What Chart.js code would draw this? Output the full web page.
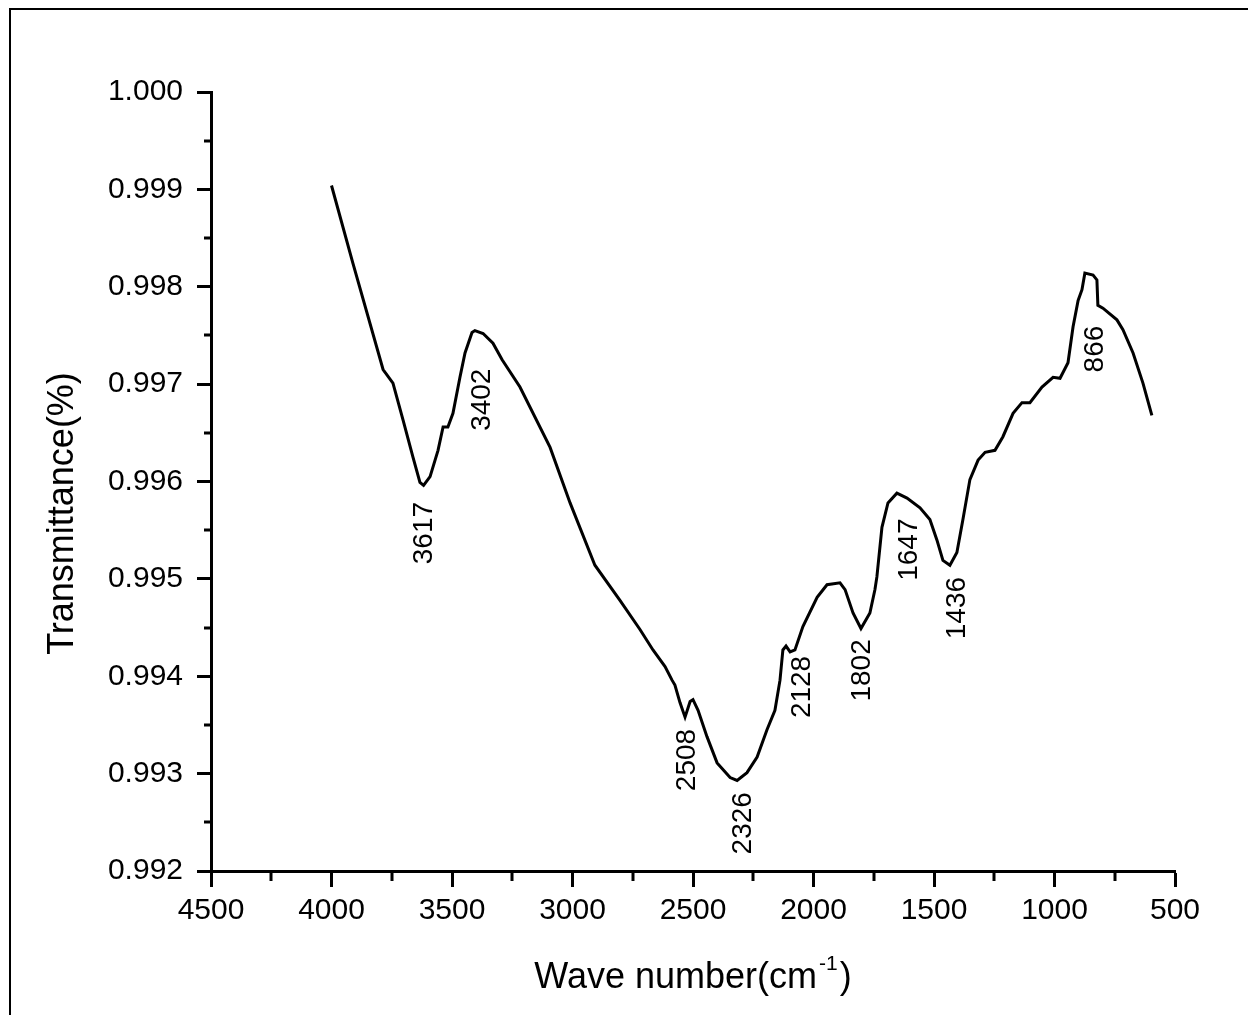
<!DOCTYPE html>
<html>
<head>
<meta charset="utf-8">
<script src="https://cdn.jsdelivr.net/npm/chart.js@4/dist/chart.umd.min.js"></script>
<style>
  html, body { margin: 0; padding: 0; background: #fff; overflow: hidden; }
  #wrap { width: 1248px; height: 1015px; }
</style>
</head>
<body>
<div id="wrap"><canvas id="ftir" width="1248" height="1015"></canvas></div>
<script>
// FTIR spectrum
const waveNumbers = [
  4000, 3911, 3786, 3745, 3703, 3662, 3633, 3618, 3591, 3558, 3537, 3517, 3496, 3467,
  3446, 3417, 3405, 3371, 3330, 3292, 3218, 3093, 3010, 2907, 2803, 2720, 2666, 2616,
  2587, 2575, 2554, 2533, 2512, 2500, 2479, 2442, 2400, 2346, 2317, 2276, 2234, 2193,
  2160, 2139, 2127, 2114, 2097, 2077, 2044, 1985, 1944, 1890, 1869, 1836, 1803, 1766,
  1745, 1737, 1716, 1691, 1654, 1612, 1558, 1517, 1488, 1463, 1434, 1405, 1380, 1351,
  1317, 1288, 1247, 1214, 1172, 1135, 1102, 1052, 1006, 977, 944, 923, 902, 886,
  874, 840, 824, 820, 799, 741, 716, 674, 633, 596
];
const transmittance = [
  0.99904, 0.99824, 0.99715, 0.99701, 0.99663, 0.99625, 0.99599, 0.99596, 0.99605, 0.99632, 0.99656, 0.99656, 0.99670, 0.99707,
  0.99732, 0.99753, 0.99755, 0.99752, 0.99742, 0.99725, 0.99697, 0.99635, 0.99578, 0.99514, 0.99478, 0.99448, 0.99427, 0.99410,
  0.99396, 0.99391, 0.99373, 0.99358, 0.99374, 0.99376, 0.99365, 0.99338, 0.99311, 0.99296, 0.99293, 0.99301, 0.99317, 0.99345,
  0.99365, 0.99396, 0.99427, 0.99431, 0.99425, 0.99427, 0.99451, 0.99481, 0.99494, 0.99496, 0.99489, 0.99465, 0.99449, 0.99465,
  0.99489, 0.99502, 0.99553, 0.99578, 0.99588, 0.99583, 0.99573, 0.99561, 0.99540, 0.99519, 0.99514, 0.99527, 0.99561, 0.99602,
  0.99622, 0.99630, 0.99632, 0.99646, 0.99670, 0.99681, 0.99681, 0.99697, 0.99707, 0.99706, 0.99722, 0.99759, 0.99786, 0.99797,
  0.99814, 0.99812, 0.99807, 0.99781, 0.99778, 0.99766, 0.99756, 0.99732, 0.99701, 0.99668
];

// peak annotations: text, and the (wave number, transmittance) where the label is centred
const peakLabels = ['3617', '3402', '2508', '2326', '2128', '1802', '1647', '1436', '866'];
const peakLabelX = [3616, 3376, 2525, 2293, 2048, 1799, 1604, 1405, 832];
const peakLabelY = [0.99547, 0.99684, 0.99314, 0.99249, 0.99389, 0.99406, 0.99530, 0.99470, 0.99736];

const FONT = '"Liberation Sans", Arial, sans-serif';

// minor ticks, peak labels, axis titles and the outer frame
const decorPlugin = {
  id: 'decor',
  beforeDraw(chart) {
    const ctx = chart.ctx;
    ctx.save();
    ctx.fillStyle = '#fff';
    ctx.fillRect(0, 0, chart.width, chart.height);
    ctx.strokeStyle = '#000';
    ctx.lineWidth = 2;
    ctx.beginPath();
    ctx.moveTo(10, chart.height + 5);
    ctx.lineTo(10, 9);
    ctx.lineTo(chart.width + 5, 9);
    ctx.stroke();
    ctx.restore();
  },
  afterDraw(chart) {
    const ctx = chart.ctx;
    const xs = chart.scales.x, ys = chart.scales.y;
    const area = chart.chartArea;
    ctx.save();
    ctx.strokeStyle = '#000';
    ctx.lineWidth = 3;
    // minor ticks
    ctx.beginPath();
    for (let v = 750; v < 4500; v += 500) {
      const px = Math.round(xs.getPixelForValue(v));
      ctx.moveTo(px, area.bottom);
      ctx.lineTo(px, area.bottom + 10);
    }
    for (let v = 0.9925; v < 1.0; v += 0.001) {
      const py = Math.round(ys.getPixelForValue(v));
      ctx.moveTo(area.left, py);
      ctx.lineTo(area.left - 7, py);
    }
    ctx.stroke();

    // peak labels, rotated
    ctx.fillStyle = '#000';
    ctx.font = '28px ' + FONT;
    ctx.textAlign = 'center';
    ctx.textBaseline = 'middle';
    peakLabels.forEach((t, i) => {
      const px = xs.getPixelForValue(peakLabelX[i]);
      const py = ys.getPixelForValue(peakLabelY[i]);
      ctx.save();
      ctx.translate(px, py);
      ctx.rotate(-Math.PI / 2);
      ctx.fillText(t, 0, 0);
      ctx.restore();
    });

    // y title
    ctx.font = '36px ' + FONT;
    ctx.save();
    ctx.translate(63, (area.top + area.bottom) / 2 + 32);
    ctx.rotate(-Math.PI / 2);
    ctx.fillText('Transmittance(%)', 0, 0);
    ctx.restore();

    // x title with superscript
    const main = 'Wave number(cm';
    const sup = '-1';
    const tail = ')';
    ctx.font = '36px ' + FONT;
    const w1 = ctx.measureText(main).width;
    const w3 = ctx.measureText(tail).width;
    ctx.font = '21px ' + FONT;
    const w2 = ctx.measureText(sup).width + 4;
    const total = w1 + w2 + w3;
    let x0 = (area.left + area.right) / 2 - total / 2;
    const base = 988;
    ctx.textAlign = 'left';
    ctx.textBaseline = 'alphabetic';
    ctx.font = '36px ' + FONT;
    ctx.fillText(main, x0, base);
    ctx.font = '21px ' + FONT;
    ctx.fillText(sup, x0 + w1 + 2, base - 18);
    ctx.font = '36px ' + FONT;
    ctx.fillText(tail, x0 + w1 + w2, base);
    ctx.restore();
  }
};

const points = waveNumbers.map((w, i) => ({ x: w, y: transmittance[i] }));

new Chart(document.getElementById('ftir'), {
  type: 'line',
  data: {
    datasets: [{
      data: points,
      borderColor: '#000',
      borderWidth: 3,
      pointRadius: 0,
      tension: 0,
      fill: false
    }]
  },
  options: {
    responsive: false,
    animation: false,
    layout: { padding: { top: 92, right: 73, left: 0, bottom: 0 } },
    plugins: { legend: { display: false }, tooltip: { enabled: false } },
    scales: {
      x: {
        type: 'linear',
        reverse: true,
        min: 500,
        max: 4500,
        afterFit(scale) { scale.height = 144; },
        ticks: {
          stepSize: 500,
          color: '#000',
          padding: 6,
          maxRotation: 0,
          font: { size: 30, family: FONT },
          callback: v => String(v)
        },
        grid: { drawOnChartArea: false, tickLength: 16, tickWidth: 3, tickColor: '#000' },
        border: { color: '#000', width: 3 }
      },
      y: {
        min: 0.992,
        max: 1.0,
        afterFit(scale) { scale.width = 211; },
        ticks: {
          stepSize: 0.001,
          color: '#000',
          padding: 14,
          font: { size: 30, family: FONT },
          callback: v => v.toFixed(3)
        },
        grid: { drawOnChartArea: false, tickLength: 14, tickWidth: 3, tickColor: '#000' },
        border: { color: '#000', width: 3 }
      }
    }
  },
  plugins: [decorPlugin]
});
</script>
</body>
</html>
